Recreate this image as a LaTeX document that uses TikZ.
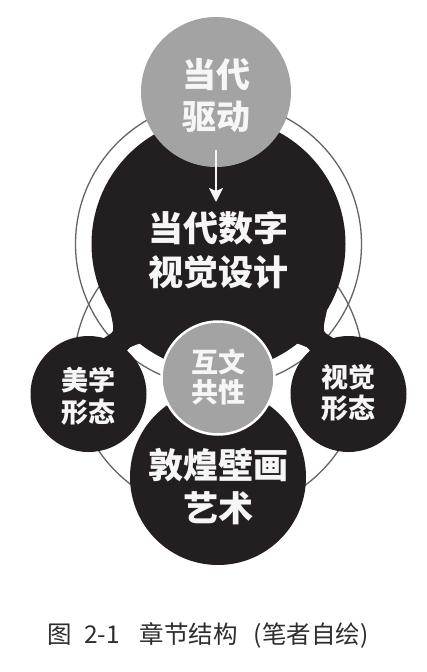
\documentclass[tikz,border=0pt]{standalone}
\usepackage{fontspec}
\newfontfamily\cjk{Noto Sans CJK SC}
\usetikzlibrary{arrows.meta}
\definecolor{blk}{RGB}{35,31,32}
\definecolor{gry}{RGB}{163,163,163}
\definecolor{lin}{RGB}{100,100,100}
\definecolor{txt}{RGB}{246,246,246}
\definecolor{cap}{RGB}{45,45,45}
\begin{document}
\begin{tikzpicture}[x=1pt,y=-1pt,
  ring/.style={draw=lin,line width=1.3pt},
  blackdisc/.style={circle,fill=blk,inner sep=0pt,outer sep=0pt},
  graydisc/.style={circle,fill=gry,inner sep=0pt,outer sep=0pt},
  intext/.style={text=txt,align=center,inner sep=0pt},
  bigfont/.style={font=\cjk\bfseries\fontsize{35}{44}\selectfont},
  smallfont/.style={font=\cjk\bfseries\fontsize{27}{31}\selectfont}
]
\useasboundingbox (0,0) rectangle (426,672);
\fill[white] (0,0) rectangle (426,672);
% thin outline circles
\draw[ring] (218.5,244) circle[radius=143pt];
\draw[ring] (218.5,369) circle[radius=145pt];
% big black circle
\node[blackdisc,minimum size=254pt] (c1) at (218.5,244) {};
% black bridges between big circle and side circles
\fill[blk] (110,310) .. controls (112,320) and (114,326) .. (113,331)
  .. controls (112,334) and (106,336) .. (100,341) -- (124,356)
  .. controls (127,350) and (129,347) .. (133,346)
  .. controls (135,345) and (138,344) .. (142,343) -- (140,320) -- cycle;
\fill[blk] (327,310) .. controls (325,320) and (323,326) .. (324,331)
  .. controls (325,334) and (331,336) .. (337,341) -- (313,356)
  .. controls (310,350) and (308,347) .. (304,346)
  .. controls (302,345) and (299,344) .. (295,343) -- (297,320) -- cycle;
% side circles
\node[blackdisc,minimum size=116pt] (s1) at (88.5,394) {};
\node[blackdisc,minimum size=116pt] (s2) at (348.5,394) {};
% bottom circle
\node[blackdisc,minimum size=176pt] (b) at (218,477) {};
% middle gray circle
\node[graydisc,draw=white,line width=2.5pt,minimum size=113pt] (g2) at (218,378) {};
% top gray circle
\node[graydisc,minimum size=150pt] (g1) at (216,92) {};
% texts
\node[intext,bigfont,font=\cjk\bfseries\fontsize{34}{42}\selectfont] (t1) at (216,96) {当代\\驱动};
\node[intext,bigfont] (t2) at (218,250) {当代数字\\视觉设计};
\node[intext,smallfont,font=\cjk\bfseries\fontsize{27}{30}\selectfont] (t3) at (218,377) {互文\\共性};
\node[intext,smallfont,font=\cjk\bfseries\fontsize{27}{32}\selectfont] (t4) at (88,396) {美学\\形态};
\node[intext,smallfont] (t5) at (348,393) {视觉\\形态};
\node[intext,bigfont,font=\cjk\bfseries\fontsize{35}{43}\selectfont] (t6) at (218,487) {敦煌壁画\\艺术};
% arrow
\coordinate (a1) at (216,150);
\coordinate (a2) at (216,202);
\draw[txt,line width=2pt,-{Stealth[length=14pt,width=14pt,inset=3pt]}] (a1) -- (a2);
% caption
\node[text=cap,font=\cjk\fontsize{24.5}{28}\selectfont,inner sep=0pt] (cap) at (208,635)
  {图\hspace{12pt}2-1\hspace{20pt}章节结构\hspace{16pt}(笔者自绘)};
\end{tikzpicture}
\end{document}
